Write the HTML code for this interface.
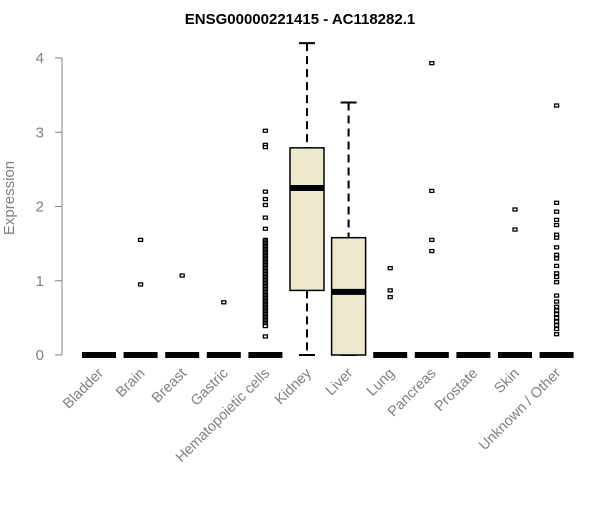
<!DOCTYPE html>
<html><head><meta charset="utf-8"><style>
body{margin:0;background:#fff;font-family:"Liberation Sans",Arial,sans-serif}
svg text{font-family:"Liberation Sans",Arial,sans-serif}
</style></head><body>
<svg id="c" width="600" height="500">
<text x="300" y="24" text-anchor="middle" font-size="15" font-weight="bold">ENSG00000221415 - AC118282.1</text>
<text transform="translate(14,198) rotate(-90)" text-anchor="middle" font-size="15" fill="#808080">Expression</text>
<g id="g"></g>
</svg>
<script>
const categories=["Bladder","Brain","Breast","Gastric","Hematopoietic cells","Kidney","Liver","Lung","Pancreas","Prostate","Skin","Unknown / Other"];
const q1=[0,0,0,0,0,0.87,0,0,0,0,0,0];
const med=[0,0,0,0,0,2.25,0.85,0,0,0,0,0];
const q3=[0,0,0,0,0,2.79,1.58,0,0,0,0,0];
const whiskLo=[0,0,0,0,0,0,0,0,0,0,0,0];
const whiskHi=[0,0,0,0,0,4.2,3.4,0,0,0,0,0];
const hemato=[3.02,2.83,2.8,2.2,2.1,2.02,1.85,1.7,1.55,1.53,1.51,1.49,1.47,1.45,1.43,1.41,1.39,1.37,1.35,1.33,1.31,1.29,1.27,1.25,1.23,1.21,1.19,1.17,1.15,1.13,1.11,1.09,1.07,1.05,1.03,1.01,0.99,0.97,0.95,0.93,0.91,0.89,0.87,0.85,0.83,0.81,0.79,0.77,0.75,0.73,0.71,0.69,0.67,0.65,0.63,0.61,0.59,0.57,0.55,0.53,0.51,0.49,0.47,0.45,0.43,0.41,0.39,0.25];
const unknown=[3.36,2.05,1.93,1.82,1.75,1.62,1.58,1.45,1.35,1.3,1.2,1.1,1.05,0.98,0.8,0.72,0.65,0.6,0.55,0.5,0.45,0.4,0.35,0.28];
const outliers=[[],[1.55,0.95],[1.07],[0.71],hemato,[],[],[1.17,0.87,0.78],[3.93,2.21,1.55,1.4],[],[1.96,1.69],unknown];
const yTicks=[0,1,2,3,4];
const ns="http://www.w3.org/2000/svg",g=document.getElementById('g');
const y=v=>355-v*74.25, x=i=>99+i*41.6, hw=17;
function mk(t,a){const e=document.createElementNS(ns,t);for(const k in a)e.setAttribute(k,a[k]);g.appendChild(e);return e;}
let e=mk('line',{x1:62,x2:62,y1:y(0),y2:y(4),stroke:'#808080'});


yTicks.forEach(t=>{
 let l=mk('line',{x1:55,x2:62,y1:y(t),y2:y(t),stroke:'#808080'});
 
 
 let tx=mk('text',{x:44,y:y(t)+5,'text-anchor':'end','font-size':15,fill:'#808080'});tx.textContent=t;
 
 
});
categories.forEach((c,i)=>{
 const cx=x(i);
 let tx=mk('text',{transform:`translate(${cx+5},${374}) rotate(-45)`,'text-anchor':'end','font-size':14.5,fill:'#808080'});tx.textContent=c;
 
 
 if(q3[i]>q1[i]){
  [[whiskHi[i],q3[i]],[q1[i],whiskLo[i]]].forEach(([a,b])=>{
   if(a!==b){let w=mk('line',{x1:cx,x2:cx,y1:y(a),y2:y(b),stroke:'#000','stroke-width':2,'stroke-dasharray':'8,5'});
   
   }
  });
  [whiskHi[i],whiskLo[i]].forEach(v=>{let cap=mk('line',{x1:cx-8,x2:cx+8,y1:y(v),y2:y(v),stroke:'#000','stroke-width':2});
   
   });
  let b=mk('rect',{x:cx-hw,y:y(q3[i]),width:2*hw,height:y(q1[i])-y(q3[i]),fill:'#EEE8CD',stroke:'#000','stroke-width':1.5});
  
  
 }
 let m=mk('line',{x1:cx-hw,x2:cx+hw,y1:y(med[i]),y2:y(med[i]),stroke:'#000','stroke-width':6});
 
 
 outliers[i].forEach(v=>{let p=mk('rect',{x:cx-2,y:y(v)-1.5,width:4,height:3,fill:'#fff',stroke:'#000','stroke-width':1.3});
  
  });
});
</script>
</body></html>
